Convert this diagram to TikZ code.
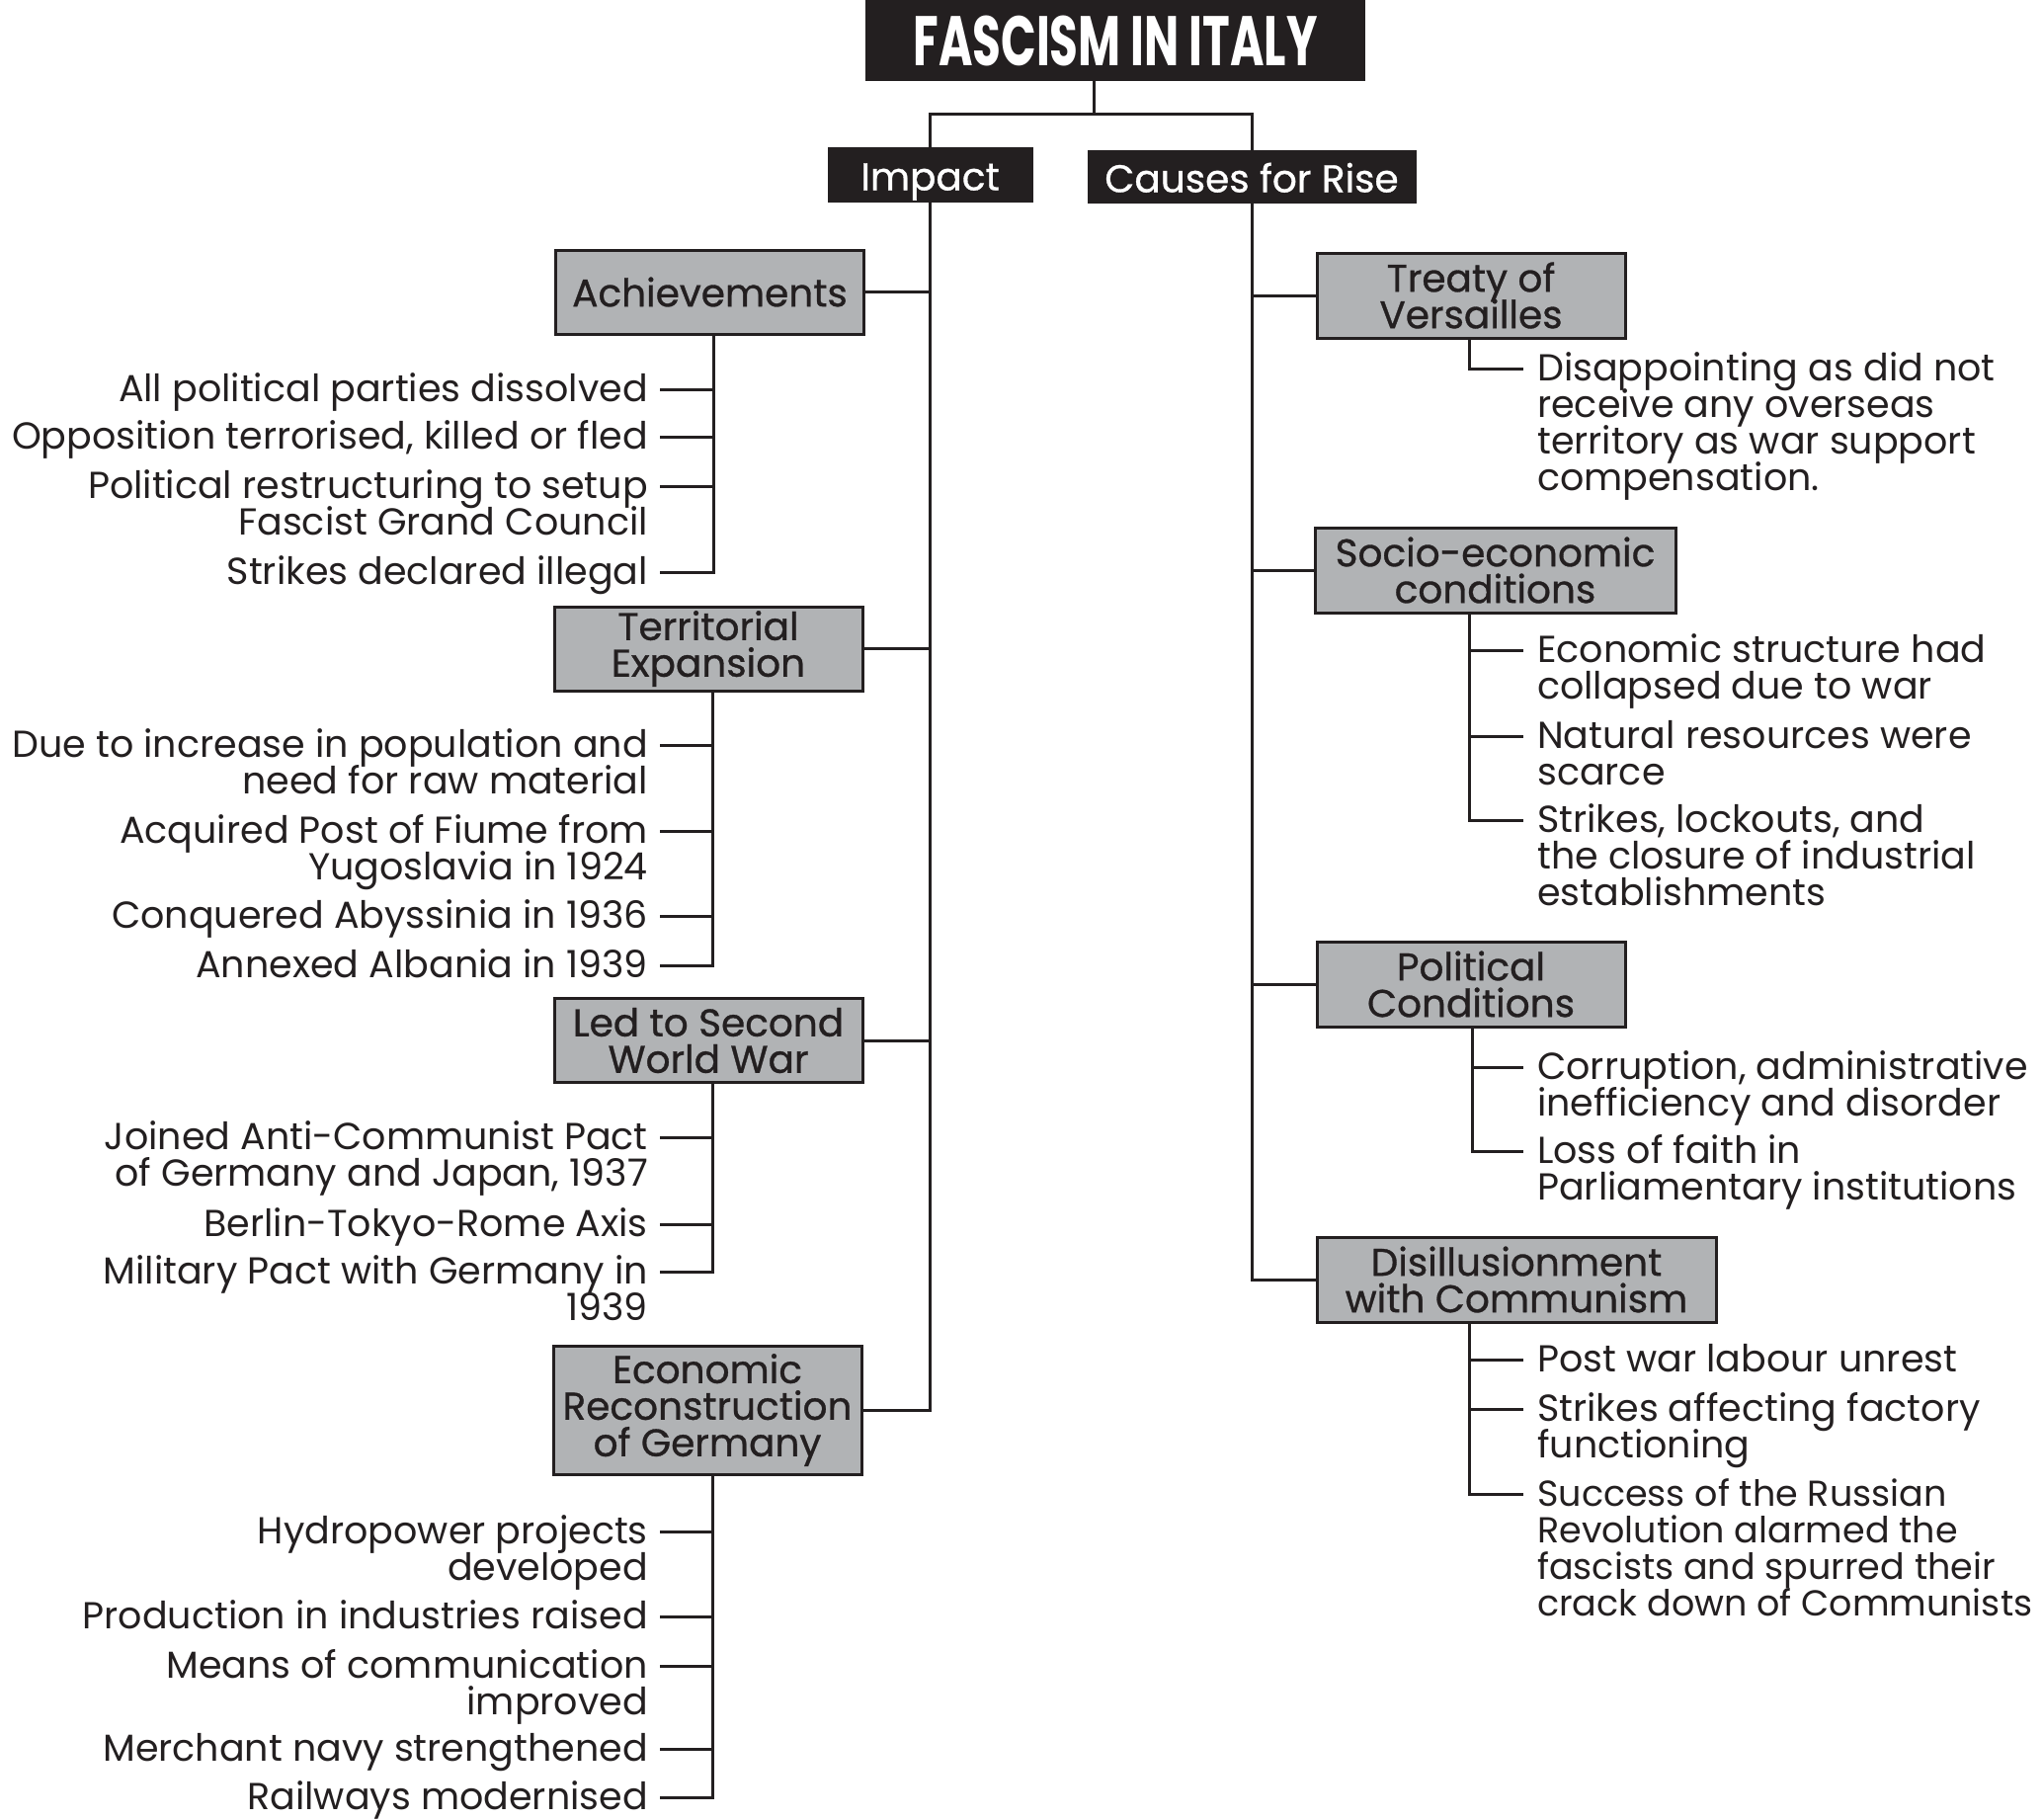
\documentclass[tikz,border=0pt]{standalone}
\usepackage{fontspec}
\usepackage{graphicx}
\setmainfont{Poppins}
\newfontfamily\medfont{Poppins}[FakeBold=0.8]
\usetikzlibrary{calc}
\definecolor{ink}{HTML}{231F20}
\definecolor{boxgray}{HTML}{B1B3B5}
\newcommand{\itemfont}{\fontsize{38}{37}\selectfont\lineskiplimit=-100pt\lineskip=0pt}
\newcommand{\smallitemfont}{\fontsize{36.5}{37}\selectfont\lineskiplimit=-100pt\lineskip=0pt}
\newcommand{\catfont}{\medfont\fontsize{39}{37}\selectfont\lineskiplimit=-100pt\lineskip=0pt}
\newcommand{\fr}{\rule{0pt}{32pt}}
\tikzset{
  conn/.style={draw=ink, line width=3pt, line cap=rect},
  titlebox/.style={fill=ink, draw=ink, text=white, minimum width=505pt, minimum height=81pt, inner sep=0pt},
  hdr/.style={fill=ink, draw=ink, text=white, font=\catfont, inner sep=0pt, text height=34pt, text depth=2pt},
  cat/.style={draw=ink, line width=3pt, fill=boxgray, text=ink, font=\catfont, align=center, inner sep=0pt, minimum height=86pt},
  litem/.style={anchor=north east, align=right, inner sep=0pt, text=ink, font=\itemfont},
  ritem/.style={anchor=north west, align=left, inner sep=0pt, text=ink, font=\itemfont},
  smallfont/.style={font=\smallitemfont},
}
\newcommand{\leftitem}[4]{%
  \coordinate (#1t) at (669,#2);
  \node[litem] (#1) at ([xshift=-13pt,yshift=20pt]#1t) {\fr#4};
  \draw[conn] (#1t) -- (#1t -| #3);
}
\newcommand{\rightitem}[5][]{%
  \coordinate (#2t) at (1540,#3);
  \node[ritem,#1] (#2) at ([xshift=16pt,yshift=20pt]#2t) {\fr#5};
  \draw[conn] (#2t) -- (#2t -| #4);
}
\begin{document}
\begin{tikzpicture}[x=1pt,y=-1pt]
\useasboundingbox[fill=white] (0,0) rectangle (2067,1842);

% title and headers
\node[titlebox] (title) at (1129,41) {\scalebox{0.66}[1]{\bfseries\fontsize{71}{71}\selectfont FASCISM IN ITALY}};
\node[hdr, minimum width=207pt, minimum height=55pt] (impact) at (941.5,176.5) {Impact};
\node[hdr, minimum width=332pt, minimum height=53pt] (causes) at (1267,178.5) {Causes for Rise};
\coordinate (bar) at (1107,115);
\draw[conn] (title.south -| bar) -- (bar);
\draw[conn] (impact.north) |- (bar) -| (causes.north);

% left categories
\node[cat, minimum width=312pt, minimum height=85pt] (ach) at (718.5,295.5) {Achievements};
\node[cat, minimum width=312pt, minimum height=85pt] (ter) at (717,656.5) {Territorial\\Expansion};
\node[cat, minimum width=312pt, minimum height=85pt] (ww) at (717,1053) {Led to Second\\World War};
\node[cat, minimum width=312pt, minimum height=130pt] (eco) at (716,1427) {Economic\\Reconstruction\\of Germany};
\draw[conn] (impact.south) -- (impact.south |- eco.east);
\draw[conn] (ach.east) -- (ach.east -| impact.south);
\draw[conn] (ter.east) -- (ter.east -| impact.south);
\draw[conn] (ww.east) -- (ww.east -| impact.south);
\draw[conn] (eco.east) -- (eco.east -| impact.south);

% right categories
\node[cat, minimum width=312pt] (tre) at (1489,299) {Treaty of\\Versailles};
\node[cat, minimum width=365pt] (soc) at (1513.5,577) {Socio-economic\\conditions};
\node[cat, minimum width=312pt] (pol) at (1489,996) {Political\\Conditions};
\node[cat, minimum width=404pt] (dis) at (1535,1295) {Disillusionment\\with Communism};
\draw[conn] (causes.south) -- (causes.south |- dis.west);
\draw[conn] (tre.west) -- (tre.west -| causes.south);
\draw[conn] (soc.west) -- (soc.west -| causes.south);
\draw[conn] (pol.west) -- (pol.west -| causes.south);
\draw[conn] (dis.west) -- (dis.west -| causes.south);

% Achievements items
\coordinate (achv) at (722,579);
\draw[conn] (ach.south -| achv) -- (achv);
\leftitem{a1}{394}{achv}{All political parties dissolved}
\leftitem{a2}{442}{achv}{Opposition terrorised, killed or fled}
\leftitem{a3}{492}{achv}{Political restructuring to setup\\Fascist Grand Council}
\leftitem{a4}{579}{achv}{Strikes declared illegal}

% Territorial items
\coordinate (terv) at (721,977);
\draw[conn] (ter.south -| terv) -- (terv);
\leftitem{t1}{754}{terv}{Due to increase in population and\\need for raw material}
\leftitem{t2}{841}{terv}{Acquired Post of Fiume from\\Yugoslavia in 1924}
\leftitem{t3}{927}{terv}{Conquered Abyssinia in 1936}
\leftitem{t4}{977}{terv}{Annexed Albania in 1939}

% WW items
\coordinate (wwv) at (721,1287);
\draw[conn] (ww.south -| wwv) -- (wwv);
\leftitem{w1}{1151}{wwv}{Joined Anti-Communist Pact\\of Germany and Japan, 1937}
\leftitem{w2}{1239}{wwv}{Berlin-Tokyo-Rome Axis}
\leftitem{w3}{1287}{wwv}{Military Pact with Germany in\\1939}

% Economic items
\coordinate (ecov) at (721,1819);
\draw[conn] (eco.south -| ecov) -- (ecov);
\leftitem{e1}{1550}{ecov}{Hydropower projects\\developed}
\leftitem{e2}{1636}{ecov}{Production in industries raised}
\leftitem{e3}{1686}{ecov}{Means of communication\\improved}
\leftitem{e4}{1770}{ecov}{Merchant navy strengthened}
\leftitem{e5}{1819}{ecov}{Railways modernised}

% Treaty items
\coordinate (trev) at (1487,373);
\draw[conn] (tre.south -| trev) -- (trev);
\rightitem{r1}{373}{trev}{Disappointing as did not\\receive any overseas\\territory as war support\\compensation.}

% Socio items
\coordinate (socv) at (1487,830);
\draw[conn] (soc.south -| socv) -- (socv);
\rightitem{s1}{658}{socv}{Economic structure had\\collapsed due to war}
\rightitem{s2}{745}{socv}{Natural resources were\\scarce}
\rightitem{s3}{830}{socv}{Strikes, lockouts, and\\the closure of industrial\\establishments}

% Political items
\coordinate (polv) at (1490,1165);
\draw[conn] (pol.south -| polv) -- (polv);
\rightitem{p1}{1080}{polv}{Corruption, administrative\\inefficiency and disorder}
\rightitem{p2}{1165}{polv}{Loss of faith in\\Parliamentary institutions}

% Disillusionment items
\coordinate (disv) at (1487,1512);
\draw[conn] (dis.south -| disv) -- (disv);
\rightitem{d1}{1376}{disv}{Post war labour unrest}
\rightitem{d2}{1426}{disv}{Strikes affecting factory\\functioning}
\rightitem[smallfont]{d3}{1512}{disv}{Success of the Russian\\Revolution alarmed the\\fascists and spurred their\\crack down of Communists}
\end{tikzpicture}
\end{document}
